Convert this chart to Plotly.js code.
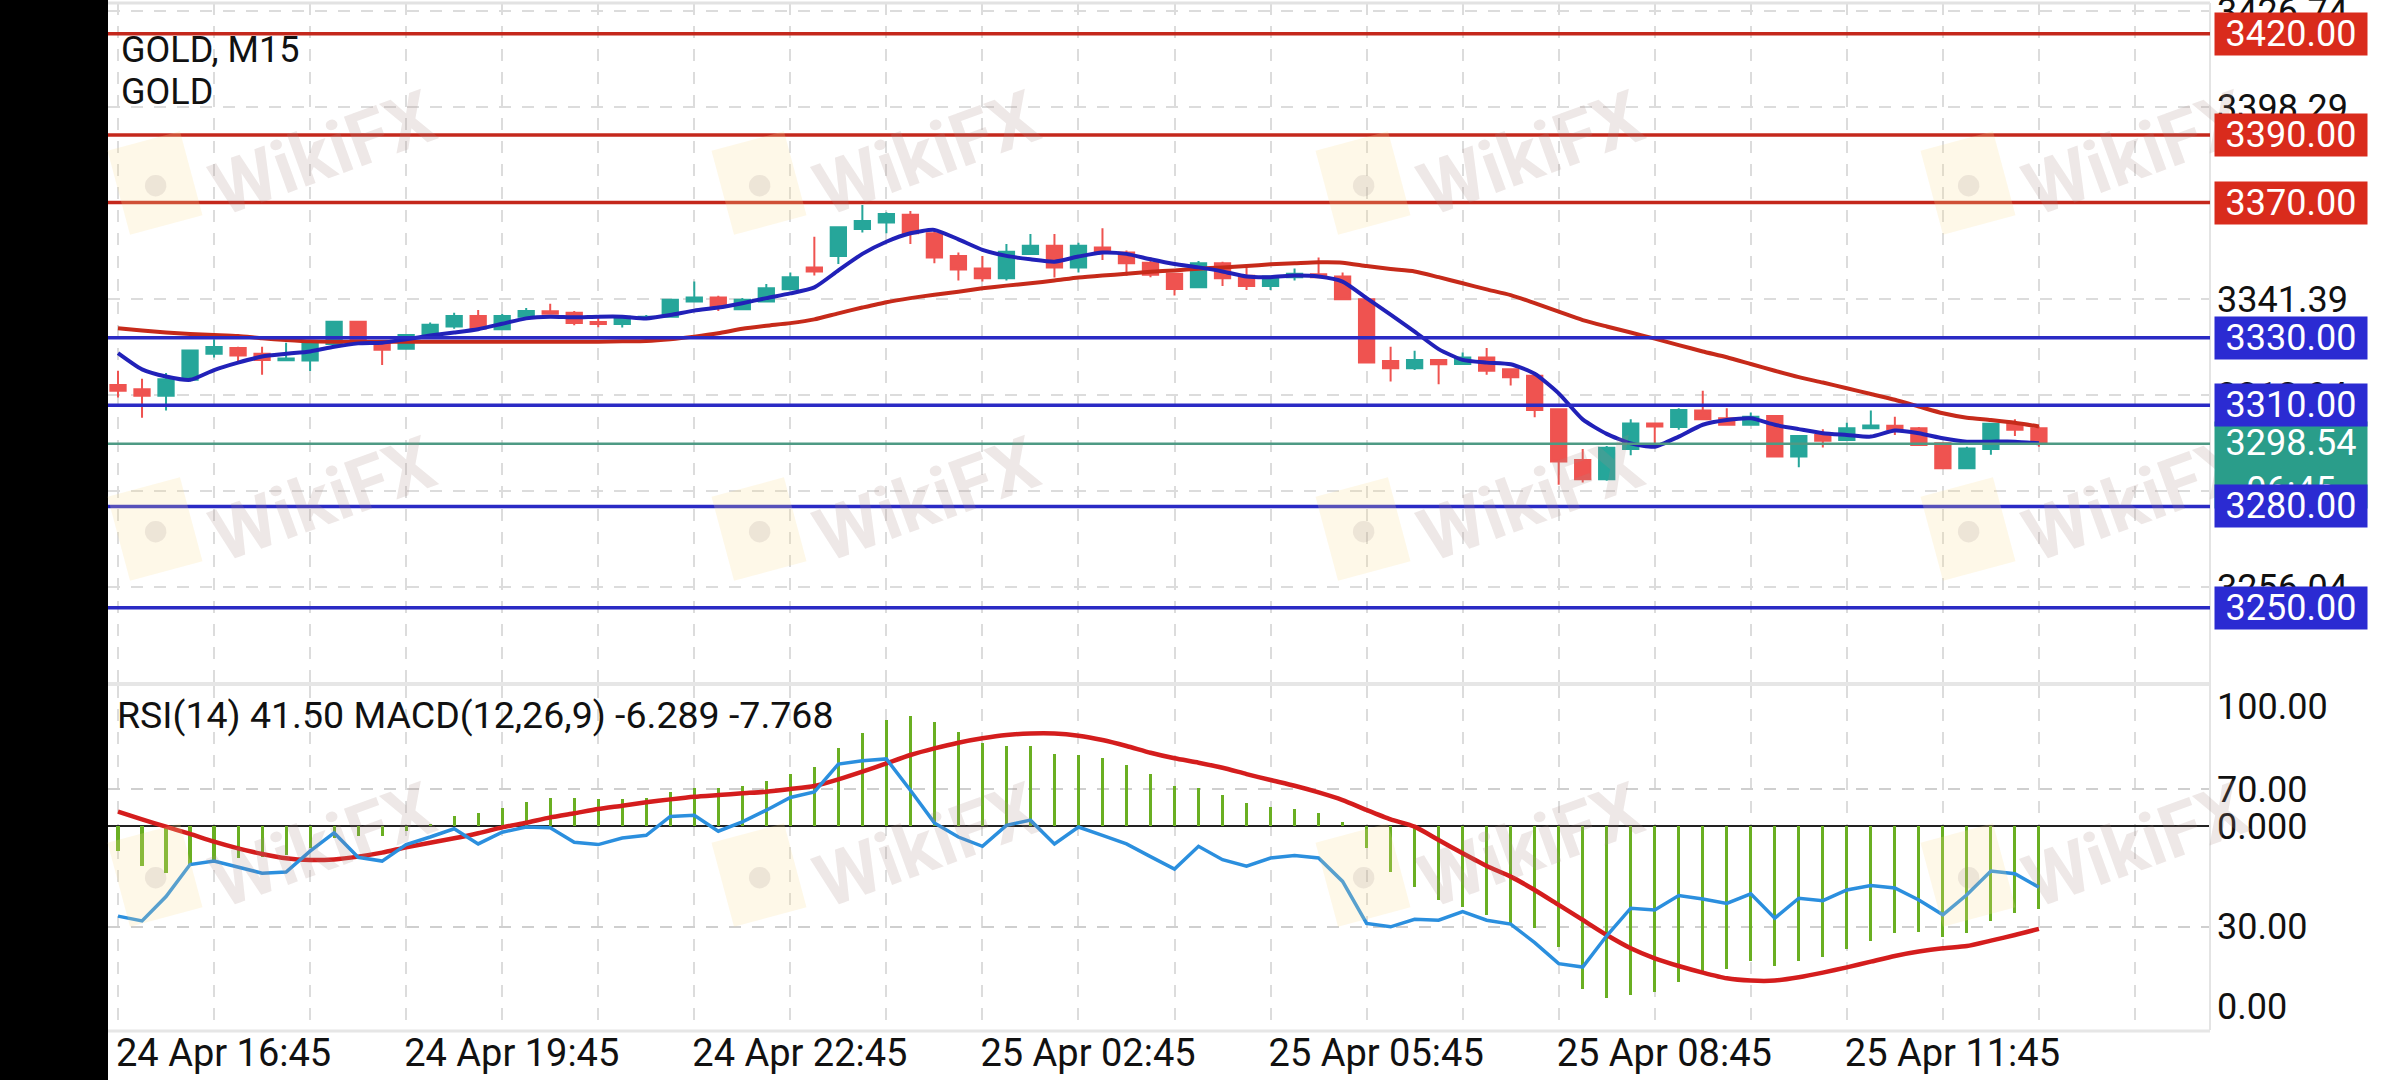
<!DOCTYPE html>
<html><head><meta charset="utf-8">
<script src="https://cdn.plot.ly/plotly-3.0.1.min.js"></script>
<style>html,body{margin:0;padding:0;background:#fff;overflow:hidden}#chart{width:2400px;height:1080px}</style>
</head><body><div id="chart"></div>
<script>
// ---------------- DATA ----------------
const timeLabels = ["24 Apr 16:45","24 Apr 19:45","24 Apr 22:45","25 Apr 02:45","25 Apr 05:45","25 Apr 08:45","25 Apr 11:45"];
const timeLabelIdx = [0,12,24,36,48,60,72];

const openP = [3316.0,3314.7,3312.8,3317.5,3325.2,3326.9,3325.2,3323.3,3323.2,3328.1,
3334.7,3328.6,3326.7,3330.8,3333.3,3336.4,3332.5,3336.2,3337.8,3337.4,
3334.6,3334.0,3335.9,3336.2,3340.7,3341.9,3338.4,3340.7,3344.3,3350.8,
3354.2,3362.2,3364.1,3366.4,3360.9,3354.2,3350.5,3347.6,3354.8,3357.2,
3350.8,3356.7,3355.2,3352.2,3348.9,3344.9,3352.0,3348.3,3345.3,3347.9,
3348.8,3348.1,3341.4,3323.1,3320.9,3323.4,3322.2,3324.1,3320.6,3318.7,
3308.8,3293.8,3288.1,3297.0,3304.6,3303.5,3308.4,3306.1,3304.2,3306.8,
3294.8,3301.2,3299.7,3303.2,3303.9,3303.2,3298.7,3291.3,3297.0,3304.7,3303.2];
const highP = [3320.2,3317.8,3319.5,3326.5,3329.5,3327.3,3327.3,3328.5,3329.3,3334.9,
3334.9,3329.3,3331.1,3334.5,3337.4,3338.2,3337.0,3338.8,3340.0,3337.9,
3336.2,3336.4,3336.7,3341.4,3346.6,3342.4,3341.7,3345.9,3349.3,3359.9,
3362.7,3369.3,3367.1,3367.5,3361.4,3355.2,3354.2,3357.7,3360.7,3360.7,
3358.1,3362.4,3355.8,3353.8,3349.1,3352.7,3352.5,3350.8,3348.3,3350.5,
3353.7,3349.3,3341.4,3327.3,3326.1,3323.4,3325.6,3326.9,3320.9,3319.3,
3308.8,3297.0,3297.9,3305.8,3304.6,3309.1,3314.3,3309.1,3307.8,3307.1,
3300.9,3302.9,3304.8,3308.4,3306.6,3303.5,3298.9,3297.7,3304.5,3305.8,3303.7];
const lowP = [3312.3,3306.3,3308.4,3317.0,3324.1,3322.6,3319.0,3323.1,3320.1,3327.8,
3327.9,3321.9,3326.6,3330.6,3332.6,3332.5,3332.3,3336.0,3337.0,3333.7,
3333.1,3333.0,3335.3,3336.0,3340.6,3337.9,3338.2,3340.7,3344.3,3348.4,
3351.8,3361.1,3360.9,3357.7,3352.0,3346.9,3346.6,3346.9,3354.8,3347.8,
3349.3,3353.0,3348.3,3347.9,3342.5,3344.6,3345.3,3344.1,3344.1,3346.9,
3347.6,3341.4,3322.6,3317.0,3320.4,3316.2,3322.2,3319.0,3315.8,3306.4,
3286.4,3287.1,3287.6,3295.2,3297.7,3302.7,3305.8,3304.2,3303.9,3294.8,
3291.6,3297.5,3299.7,3303.2,3301.2,3297.9,3291.0,3291.3,3295.3,3300.9,3297.7];
const closeP = [3314.3,3312.8,3317.7,3326.2,3327.2,3324.7,3323.4,3323.8,3328.6,3334.7,
3328.3,3326.4,3330.8,3333.8,3336.4,3332.7,3336.4,3337.9,3337.1,3334.3,
3334.0,3336.2,3336.2,3341.2,3341.9,3339.4,3341.2,3344.6,3347.9,3349.6,
3362.7,3364.5,3366.6,3360.9,3353.7,3350.2,3347.6,3355.4,3357.2,3350.8,
3357.2,3355.2,3352.0,3348.6,3344.4,3352.0,3347.6,3345.3,3348.1,3348.9,
3347.9,3341.4,3322.6,3320.9,3323.4,3322.1,3324.1,3320.2,3318.3,3308.6,
3293.3,3288.1,3297.4,3304.6,3303.7,3308.6,3305.8,3304.2,3306.6,3294.8,
3300.9,3299.5,3303.2,3304.0,3302.9,3298.2,3291.3,3297.2,3304.5,3302.7,3298.54];

const maFast = [3325.4,3320.6,3318.5,3317.5,3320.4,3322.6,3324.4,3325.2,3325.9,3327.3,
3328.3,3328.5,3329.5,3330.6,3331.5,3332.5,3334.1,3335.7,3336.2,3336.0,
3336.2,3336.2,3335.7,3336.7,3338.0,3338.9,3340.2,3341.7,3343.1,3344.9,
3349.9,3354.8,3358.4,3360.9,3361.9,3359.1,3356.0,3354.2,3353.2,3352.5,
3354.0,3355.2,3354.8,3353.2,3351.8,3350.8,3349.6,3348.1,3347.9,3348.4,
3348.1,3346.6,3341.7,3336.8,3331.8,3326.6,3323.4,3322.6,3322.1,3319.3,
3313.5,3305.8,3301.5,3298.7,3297.7,3300.7,3304.2,3305.6,3306.1,3304.2,
3302.9,3301.7,3301.2,3300.7,3302.5,3301.7,3300.2,3299.2,3299.2,3299.2,3298.7];
const maSlow = [3332.8,3332.1,3331.5,3331.1,3330.8,3330.5,3329.8,3329.3,3328.9,3328.8,
3328.8,3328.8,3328.8,3328.8,3328.8,3328.8,3328.8,3328.8,3328.8,3328.8,
3328.8,3328.9,3329.0,3329.5,3330.3,3331.3,3332.6,3333.5,3334.3,3335.4,
3337.2,3338.9,3340.5,3341.7,3342.7,3343.6,3344.6,3345.4,3346.1,3346.9,
3347.8,3348.4,3348.9,3349.5,3349.9,3350.4,3350.8,3351.2,3351.7,3352.0,
3352.3,3352.2,3351.2,3350.3,3349.6,3347.9,3346.1,3344.3,3342.6,3340.2,
3337.7,3335.2,3333.3,3331.5,3329.7,3327.8,3325.9,3324.2,3322.2,3320.2,
3318.3,3316.7,3315.0,3313.3,3311.6,3309.6,3307.6,3306.3,3305.6,3304.8,3303.7];

const rsi = [33.1,31.7,38.8,48.1,49.1,47.3,45.6,45.9,52.0,57.3,
50.2,49.1,53.9,56.1,58.5,54.1,57.5,59.0,58.8,54.6,
53.9,55.8,56.6,62.1,62.4,57.8,60.5,63.9,67.6,69.2,
77.3,78.3,78.8,69.7,60.2,56.1,53.4,59.5,61.0,54.1,
59.0,56.6,54.1,50.4,46.8,53.4,49.5,47.6,50.0,50.7,
50.0,43.2,31.0,30.0,32.2,31.9,34.4,31.9,30.8,25.4,
19.3,18.3,27.4,35.4,34.9,39.1,38.1,36.8,39.6,32.5,
38.3,37.6,40.7,42.0,41.3,37.8,33.5,39.3,46.2,45.4,41.5];
const macdHist = [-1.89,-2.99,-3.52,-2.94,-2.57,-2.44,-2.31,-2.19,-1.69,-0.93,
-0.73,-0.75,-0.35,0.13,0.75,1.01,1.38,1.81,2.14,2.14,
2.04,2.06,2.09,2.57,2.89,2.89,3.02,3.42,3.92,4.48,
5.91,7.04,8.00,8.30,7.85,7.12,6.29,6.04,6.04,5.43,
5.36,5.13,4.60,3.92,3.02,2.84,2.34,1.71,1.46,1.28,
1.01,0.30,-1.69,-3.45,-4.63,-5.58,-6.09,-6.72,-7.35,-7.72,
-9.11,-12.33,-13.00,-12.75,-12.50,-11.75,-10.99,-10.82,-10.16,-10.57,
-10.16,-9.91,-9.31,-8.65,-8.10,-7.97,-8.35,-8.05,-7.14,-6.54,-6.289];
const macdSignal = [1.08,0.50,-0.05,-0.60,-1.18,-1.69,-2.11,-2.44,-2.57,-2.52,
-2.31,-2.01,-1.61,-1.26,-0.93,-0.55,-0.10,0.25,0.65,0.96,
1.28,1.53,1.79,2.01,2.21,2.34,2.47,2.59,2.79,3.02,
3.52,4.10,4.73,5.36,5.86,6.29,6.62,6.87,6.99,6.99,
6.82,6.49,6.04,5.53,5.11,4.78,4.40,3.92,3.47,3.04,
2.54,1.96,1.21,0.50,-0.05,-1.06,-2.06,-3.02,-3.82,-4.83,
-5.96,-7.09,-8.23,-9.23,-9.99,-10.57,-11.07,-11.50,-11.67,-11.67,
-11.42,-11.07,-10.67,-10.24,-9.81,-9.48,-9.23,-9.06,-8.65,-8.23,-7.768];

const resistanceLevels = [3420, 3390, 3370];
const supportLevels = [3330, 3310, 3280, 3250];
const lastPrice = 3298.54;
const countdown = "06:45";
const priceTicks = [3426.74, 3398.29, 3369.84, 3341.39, 3312.94, 3284.49, 3256.04];
const rsiLevels = [70, 30];
const rsiValue = 41.50, macdMain = -6.289, macdSig = -7.768;
const symbol = "GOLD", timeframe = "M15";

// ---------------- LAYOUT HELPERS ----------------
const W = 2400, H = 1080, PL = 108, PR = 2210, PT = 3, PB = 1030;
const xp = px => (px - PL) / (PR - PL);
const yp = py => (PB - py) / (PB - PT);
const idx = openP.map((_, i) => i);
const FONT = "Roboto, 'Noto Sans', sans-serif";
const gridDash = "12px,11px";
const gridCol = "#dcdcdc";

const traces = [
  { type: 'candlestick', x: idx, open: openP, high: highP, low: lowP, close: closeP,
    increasing: { line: { color: '#26a69a', width: 2 }, fillcolor: '#26a69a' },
    decreasing: { line: { color: '#ef5350', width: 2 }, fillcolor: '#ef5350' },
    whiskerwidth: 0, hoverinfo: 'skip', xaxis: 'x', yaxis: 'y', showlegend: false },
  { type: 'scatter', mode: 'lines', x: idx, y: maSlow, line: { color: '#c62a1a', width: 4, shape: 'spline', smoothing: 0.6 },
    xaxis: 'x', yaxis: 'y', hoverinfo: 'skip', showlegend: false },
  { type: 'scatter', mode: 'lines', x: idx, y: maFast, line: { color: '#2121b8', width: 4, shape: 'spline', smoothing: 0.6 },
    xaxis: 'x', yaxis: 'y', hoverinfo: 'skip', showlegend: false },
  { type: 'bar', x: idx, y: macdHist, width: 0.13, marker: { color: '#6aaf22', line: { width: 0 } },
    xaxis: 'x', yaxis: 'y2', hoverinfo: 'skip', showlegend: false },
  { type: 'scatter', mode: 'lines', x: idx, y: macdSignal, line: { color: '#d41d1d', width: 4.5, shape: 'spline', smoothing: 0.6 },
    xaxis: 'x', yaxis: 'y2', hoverinfo: 'skip', showlegend: false },
  { type: 'scatter', mode: 'lines', x: idx, y: rsi, line: { color: '#2b8fde', width: 3.5 },
    xaxis: 'x', yaxis: 'y3', hoverinfo: 'skip', showlegend: false }
];

const shapes = [];
// left black band
shapes.push({ type: 'rect', xref: 'paper', yref: 'paper', x0: xp(0), x1: xp(PL), y0: yp(H), y1: yp(0),
  fillcolor: '#000', line: { width: 0 }, layer: 'above' });
// panel borders
shapes.push({ type: 'line', xref: 'paper', yref: 'paper', x0: 0, x1: 1, y0: yp(3), y1: yp(3), line: { color: '#e2e2e2', width: 3 } });
shapes.push({ type: 'rect', xref: 'paper', yref: 'paper', x0: 0, x1: 1, y0: yp(686), y1: yp(682), fillcolor: '#e6e6e6', line: { width: 0 } });
shapes.push({ type: 'line', xref: 'paper', yref: 'paper', x0: 0, x1: 1, y0: yp(1031), y1: yp(1031), line: { color: '#e6e6e6', width: 3 } });
shapes.push({ type: 'line', xref: 'paper', yref: 'paper', x0: 1, x1: 1, y0: 0, y1: 1, line: { color: '#e4e4e4', width: 2 } });
// levels (drawn over the price marks, as in the reference)
shapes.push({ type: 'line', xref: 'paper', yref: 'y', x0: 0, x1: 1, y0: lastPrice, y1: lastPrice,
  line: { color: '#4e9a84', width: 2.5 }, layer: 'above' });
resistanceLevels.forEach(v => shapes.push({ type: 'line', xref: 'paper', yref: 'y', x0: 0, x1: 1, y0: v, y1: v,
  line: { color: '#c4281c', width: 3.5 }, layer: 'above' }));
supportLevels.forEach(v => shapes.push({ type: 'line', xref: 'paper', yref: 'y', x0: 0, x1: 1, y0: v, y1: v,
  line: { color: '#2a2ac4', width: 3.5 }, layer: 'above' }));

const annotations = [];
// watermarks
const wmX = [322, 926, 1530, 2135], wmY = [153, 499, 845];
wmY.forEach(wy => wmX.forEach(wx => {
  annotations.push({ xref: 'paper', yref: 'paper', x: xp(wx - 167), y: yp(wy + 30), text: '●', showarrow: false,
    textangle: -15, font: { family: FONT, size: 50, color: 'rgba(150,130,130,0.16)' },
    bgcolor: 'rgba(252,222,150,0.22)', width: 72, height: 84, xanchor: 'center', yanchor: 'middle' });
  annotations.push({ xref: 'paper', yref: 'paper', x: xp(wx), y: yp(wy), text: '<b>WikiFX</b>', showarrow: false,
    textangle: -20, font: { family: FONT, size: 74, color: 'rgba(170,140,135,0.2)' }, xanchor: 'center', yanchor: 'middle' });
}));
// header texts
annotations.push({ xref: 'paper', yref: 'paper', x: xp(119), y: yp(50), xanchor: 'left', yanchor: 'middle', showarrow: false,
  text: symbol + ', ' + timeframe, font: { family: FONT, size: 36, color: '#111' } });
annotations.push({ xref: 'paper', yref: 'paper', x: xp(119), y: yp(92), xanchor: 'left', yanchor: 'middle', showarrow: false,
  text: symbol, font: { family: FONT, size: 36, color: '#111' } });
annotations.push({ xref: 'paper', yref: 'paper', x: xp(115), y: yp(715), xanchor: 'left', yanchor: 'middle', showarrow: false,
  text: 'RSI(14) ' + rsiValue.toFixed(2) + ' MACD(12,26,9) ' + macdMain.toFixed(3) + ' ' + macdSig.toFixed(3),
  font: { family: FONT, size: 37.5, color: '#111' } });
// RSI bounds labels
annotations.push({ xref: 'paper', yref: 'y3', x: 1, y: 100, xanchor: 'left', yanchor: 'middle', yshift: -21, xshift: 5, showarrow: false,
  text: '100.00', font: { family: FONT, size: 36, color: '#111' } });
annotations.push({ xref: 'paper', yref: 'y3', x: 1, y: 0, xanchor: 'left', yanchor: 'middle', yshift: 23, xshift: 5, showarrow: false,
  text: '0.00', font: { family: FONT, size: 36, color: '#111' } });
// price tags
const tag = (v, txt, color, extra) => Object.assign({ xref: 'paper', yref: 'y', x: 1, y: v, xanchor: 'left', yanchor: 'middle',
  xshift: 4, showarrow: false, text: txt, bgcolor: color, width: 152, height: 42, borderpad: 0,
  font: { family: FONT, size: 36, color: '#fff' } }, extra || {});
annotations.push(tag(lastPrice, lastPrice.toFixed(2) + '<br>' + countdown, '#2a9d8a',
  { yanchor: 'top', yshift: 23, height: 86, valign: 'top' }));
resistanceLevels.forEach(v => annotations.push(tag(v, v.toFixed(2), '#d92b1c')));
supportLevels.forEach(v => annotations.push(tag(v, v.toFixed(2), '#2b2bd2')));

const layout = {
  width: W, height: H,
  margin: { l: PL, r: W - PR, t: PT, b: H - PB, pad: 0 },
  paper_bgcolor: '#fff', plot_bgcolor: '#fff',
  showlegend: false, dragmode: false, hovermode: false,
  boxgap: 0.25, boxgroupgap: 0.15, bargap: 0,
  font: { family: FONT, size: 36, color: '#111' },
  xaxis: {
    range: [-10 / 24, 80 + (PR - 2039) / 24], anchor: 'y2', rangeslider: { visible: false },
    tickmode: 'array', tickvals: timeLabelIdx, ticktext: timeLabels, ticklabelposition: 'outside right',
    tickfont: { family: FONT, size: 38, color: '#111' }, ticks: '', ticklabelstandoff: -3, ticklabelshift: -2,
    ticklabeloverflow: 'allow',
    showgrid: true, gridcolor: gridCol, griddash: gridDash, gridwidth: 2,
    minor: { tickmode: 'linear', tick0: 0, dtick: 4, showgrid: true, gridcolor: gridCol, griddash: gridDash, gridwidth: 2, ticks: '' },
    zeroline: false, showline: false, fixedrange: true
  },
  yaxis: {
    domain: [yp(683), 1], range: [3227.73, 3429.09], side: 'right', anchor: 'x',
    tickmode: 'array', tickvals: priceTicks, tickformat: '.2f', ticks: '', ticklabelstandoff: 6,
    ticklabeloverflow: 'allow',
    tickfont: { family: FONT, size: 36, color: '#111' },
    showgrid: true, gridcolor: gridCol, griddash: gridDash, gridwidth: 2, zeroline: false, showline: false, fixedrange: true
  },
  yaxis2: {
    domain: [0, yp(686)], range: [-15.40, 10.57], side: 'right', anchor: 'x',
    tickmode: 'array', tickvals: [0], ticktext: ['0.000'], ticks: '', ticklabelstandoff: 6,
    tickfont: { family: FONT, size: 36, color: '#111' },
    showgrid: false, zeroline: true, zerolinecolor: '#222', zerolinewidth: 1.5, showline: false, fixedrange: true
  },
  yaxis3: {
    overlaying: 'y2', range: [0, 100], side: 'right', anchor: 'x',
    tickmode: 'array', tickvals: rsiLevels, ticktext: rsiLevels.map(v => v.toFixed(2)), ticks: '', ticklabelstandoff: 6,
    tickfont: { family: FONT, size: 36, color: '#111' },
    showgrid: true, gridcolor: '#cfcfcf', griddash: gridDash, gridwidth: 2, zeroline: false, showline: false, fixedrange: true
  },
  shapes: shapes, annotations: annotations
};

Plotly.newPlot('chart', traces, layout, { staticPlot: true, displayModeBar: false });
</script></body></html>
